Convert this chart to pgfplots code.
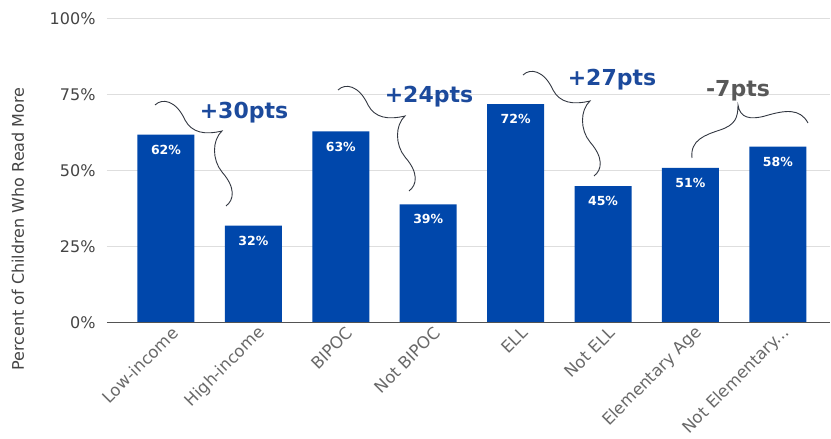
\documentclass[border=0pt]{standalone}
\usepackage{fontspec}
\setmainfont{DejaVu Sans}
\usepackage{pgfplots}
\pgfplotsset{compat=1.18}
\definecolor{barblue}{RGB}{0,71,171}
\definecolor{annblue}{RGB}{28,74,156}
\definecolor{anngray}{RGB}{88,88,88}
\definecolor{tickgray}{RGB}{68,68,68}
\definecolor{xlabgray}{RGB}{105,105,105}
\definecolor{gridgray}{RGB}{222,222,222}
\definecolor{bracegray}{RGB}{50,55,65}
\newcommand{\bracea}[2]{%
  \begin{scope}[shift={(#1,#2)}]
  \draw[bracegray, line width=0.9pt] (155,105) .. controls (162,98) and (176,100) .. (185,120)
    .. controls (192,133) and (205,135) .. (222,131)
    .. controls (212,140) and (212,160) .. (222,172)
    .. controls (236,188) and (234,200) .. (226,206);
  \end{scope}}
\begin{document}
\begin{tikzpicture}
\begin{axis}[name=ax, scale only axis, width=723pt, height=304pt,
  xmin=-0.675, xmax=7.597, ymin=0, ymax=100,
  ybar, bar width=57pt,
  xtick={0,1,2,3,4,5,6,7},
  xticklabels={Low-income,High-income,BIPOC,Not BIPOC,ELL,Not ELL,Elementary Age,{Not Elementary{.}{.}{.}}},
  ytick={0,25,50,75,100},
  yticklabel={\pgfmathprintnumber{\tick}\%},
  /pgf/number format/assume math mode=true,
  ymajorgrids, major grid style={gridgray, line width=1pt},
  axis line style={draw=none}, major tick length=0pt,
  yticklabel style={font=\fontsize{16}{19}\selectfont, text=tickgray, anchor=east, xshift=-8pt},
  xticklabel style={font=\fontsize{16.5}{19}\selectfont, text=xlabgray, anchor=east, inner sep=0pt, xshift=9pt, yshift=-7pt, rotate=45},
  nodes near coords={\pgfmathprintnumber{\pgfplotspointmeta}\%},
  every node near coord/.append style={text=white, font=\bfseries\fontsize{12.5}{15}\selectfont, anchor=center, yshift=-15pt},
]
\addplot[fill=barblue, draw=none] coordinates {(0,62) (1,32) (2,63) (3,39) (4,72) (5,45) (6,51) (7,58)};
\draw[gray!65!black, line width=1.3pt] (axis cs:-0.675,0) -- (axis cs:7.597,0);
\end{axis}
\begin{scope}[shift={(ax.north west)}]
\begin{scope}[x=1pt,y=-1pt,shift={(-107,-19)}]
  \bracea{0}{0}
  \bracea{183}{-15}
  \bracea{368}{-30}
  \draw[bracegray, line width=0.9pt] (692,158) .. controls (690,140) and (705,135) .. (720,130)
    .. controls (735,125) and (738,118) .. (738,105)
    .. controls (740,118) and (750,120) .. (765,116)
    .. controls (785,110) and (800,108) .. (808,123);
  \node[anchor=base, text=annblue, font=\bfseries\fontsize{22}{26}\selectfont, inner sep=0pt] at (244,119) {+30pts};
  \node[anchor=base, text=annblue, font=\bfseries\fontsize{22}{26}\selectfont, inner sep=0pt] at (429,103) {+24pts};
  \node[anchor=base, text=annblue, font=\bfseries\fontsize{22}{26}\selectfont, inner sep=0pt] at (612,86) {+27pts};
  \node[anchor=base, text=anngray, font=\bfseries\fontsize{22}{26}\selectfont, inner sep=0pt] at (738,97) {-7pts};
  \node[rotate=90, text=tickgray, font=\fontsize{16}{19}\selectfont, inner sep=0pt] at (18,229) {Percent of Children Who Read More};
\end{scope}
\end{scope}
\pgfresetboundingbox
\path[use as bounding box] ([shift={(-107pt,-116pt)}]ax.south west) rectangle ([shift={(1pt,19pt)}]ax.north east);
\end{tikzpicture}
\end{document}
